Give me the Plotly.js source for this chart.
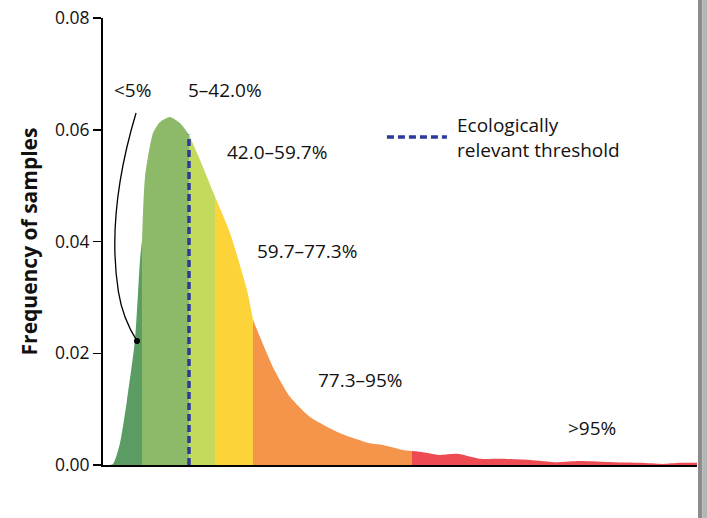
<!DOCTYPE html>
<html>
<head>
<meta charset="utf-8">
<script src="https://cdn.plot.ly/plotly-3.0.1.min.js"></script>
<style>html,body{margin:0;padding:0;background:#fff;}#chart{width:707px;height:518px;}</style>
</head>
<body>
<div id="chart"></div>
<script>
// Distribution curve (x: relative position along unlabeled axis, y: frequency of samples)
const curveX = [0.67, 1.68, 2.86, 4.04, 5.39, 6.23, 6.57, 7.07, 8.42, 9.60, 11.28, 12.96, 14.48, 16.33, 18.86, 21.38, 24.24, 25.25, 28.62, 31.48, 34.85, 39.90, 44.95, 47.14, 50.50, 52.02, 53.87, 56.73, 59.60, 63.47, 66.84, 71.89, 76.43, 80.30, 85.86, 90.40, 94.28, 97.14, 100];
const curveY = [0.0000, 0.0002, 0.0039, 0.0116, 0.0224, 0.0367, 0.0403, 0.0515, 0.0594, 0.0614, 0.0623, 0.0612, 0.0591, 0.0546, 0.0480, 0.0415, 0.0313, 0.0260, 0.0175, 0.0122, 0.0086, 0.0057, 0.0039, 0.0036, 0.0027, 0.0025, 0.0023, 0.0018, 0.0020, 0.0011, 0.0011, 0.0009, 0.0005, 0.0007, 0.0005, 0.0004, 0.0002, 0.0004, 0.0004];

// Percentile bands
const bandLabels = ["<5%", "5\u201342.0%", "42.0\u201359.7%", "59.7\u201377.3%", "77.3\u201395%", ">95%"];
const bandEdges = [0.67, 6.57, 14.48, 18.86, 25.25, 52.02, 100];
const bandColors = ["#5a9c62", "#8cba69", "#c3da5c", "#fcd43a", "#f5944b", "#ee4a52"];

// Threshold
const thresholdX = 14.48;
const thresholdTop = 0.0591;
const thresholdLabel = "Ecologically<br>relevant threshold";

const yTicks = [0, 0.02, 0.04, 0.06, 0.08];

const traces = [];
for (let b = 0; b < bandLabels.length; b++) {
  const xs = [], ys = [];
  for (let i = 0; i < curveX.length; i++) {
    if (curveX[i] >= bandEdges[b] - 1e-9 && curveX[i] <= bandEdges[b+1] + 1e-9) {
      xs.push(curveX[i]); ys.push(curveY[i]);
    }
  }
  traces.push({
    x: xs, y: ys, type: 'scatter', mode: 'lines', fill: 'tozeroy',
    fillcolor: bandColors[b], line: {width: 0, shape: 'spline', smoothing: 0.6, color: bandColors[b]},
    hoverinfo: 'skip', showlegend: false, name: bandLabels[b]
  });
}
// threshold dashed line
traces.push({
  x: [thresholdX, thresholdX], y: [0, thresholdTop], type: 'scatter', mode: 'lines',
  line: {color: '#2b3a9b', width: 3.5, dash: '7px,4px'}, showlegend: false, hoverinfo: 'skip'
});
// pointer dot for <5% label
traces.push({
  x: [5.72], y: [0.0222], type: 'scatter', mode: 'markers',
  marker: {color: '#000', size: 6}, showlegend: false, hoverinfo: 'skip'
});

const font = {family: 'Open Sans, Noto Sans, sans-serif', size: 19, color: '#111'};

const labelPos = [
  [0.049, 0.839], [0.205, 0.839], [0.293, 0.700], [0.343, 0.479], [0.434, 0.190], [0.823, 0.083]
];
const annotations = bandLabels.map((t, i) => ({
  text: t, xref: 'paper', yref: 'paper', x: labelPos[i][0], y: labelPos[i][1],
  showarrow: false, font: font, xanchor: 'center', yanchor: 'middle'
}));
annotations.push({
  text: thresholdLabel, xref: 'paper', yref: 'paper', x: 0.592, y: 0.733,
  xanchor: 'left', yanchor: 'middle', align: 'left', showarrow: false, font: font
});

const layout = {
  width: 707, height: 518,
  margin: {l: 103, r: 10, t: 18, b: 53},
  paper_bgcolor: '#fff', plot_bgcolor: '#fff',
  showlegend: false,
  xaxis: {range: [0, 100], showline: true, linecolor: '#000', linewidth: 2,
          showticklabels: false, ticks: '', showgrid: false, zeroline: false, fixedrange: true},
  yaxis: {range: [0, 0.08], tickvals: yTicks, tickformat: '.2f', ticks: 'outside', ticklen: 8,
          tickwidth: 1.5, tickcolor: '#000', showline: true, linecolor: '#000', linewidth: 2,
          showgrid: false, zeroline: false, tickfont: {family: 'Open Sans, sans-serif', size: 17.5, color: '#111'},
          title: {text: '<b>Frequency of samples</b>', font: {family: 'Open Sans, sans-serif', size: 21, color: '#111'}, standoff: 12},
          fixedrange: true},
  annotations: annotations,
  shapes: [
    {type: 'path', xref: 'x', yref: 'y', path: 'M5.56,0.063 Q0.5,0.045 2.6,0.031 Q3.3,0.0263 5.72,0.0222',
     line: {color: '#000', width: 1.3}},
    {type: 'line', xref: 'paper', yref: 'paper', x0: 0.478, x1: 0.579, y0: 0.734, y1: 0.734,
     line: {color: '#2b3a9b', width: 3.5, dash: '7px,4px'}},
    {type: 'rect', xref: 'paper', yref: 'paper', x0: 1.0017, x1: 1.009, y0: -0.12, y1: 1.04,
     fillcolor: '#8c8c8c', line: {width: 0}},
    {type: 'rect', xref: 'paper', yref: 'paper', x0: 1.009, x1: 1.017, y0: -0.12, y1: 1.04,
     fillcolor: '#b5b5b5', line: {width: 0}}
  ]
};

Plotly.newPlot('chart', traces, layout, {displayModeBar: false, staticPlot: true});
</script>
</body>
</html>
